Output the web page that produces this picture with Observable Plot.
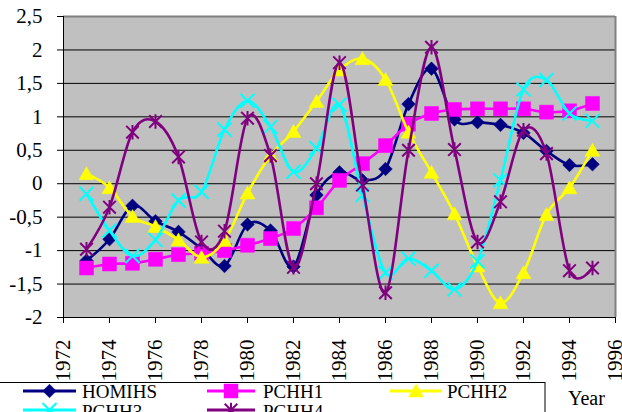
<!DOCTYPE html>
<html><head><meta charset="utf-8">
<script src="https://cdn.jsdelivr.net/npm/d3@7"></script>
<script src="https://cdn.jsdelivr.net/npm/@observablehq/plot@0.6"></script>
<style>
body{margin:0;background:#fff;font-family:"Liberation Serif",serif;}
#chart{width:622px;}
#legend{display:block;}
</style></head><body><div id="chart"></div>
<script>
const years = [1973,1974,1975,1976,1977,1978,1979,1980,1981,1982,1983,1984,1985,1986,1987,1988,1989,1990,1991,1992,1993,1994,1995];
const xTicks = [1972,1974,1976,1978,1980,1982,1984,1986,1988,1990,1992,1994,1996];
const yTicks = [-2,-1.5,-1,-0.5,0,0.5,1,1.5,2,2.5];
const seriesNames = ["HOMIHS","PCHH1","PCHH2","PCHH3","PCHH4"];
const homihs = [-1.15,-0.83,-0.33,-0.56,-0.72,-0.97,-1.23,-0.61,-0.7,-1.24,-0.17,0.17,0.05,0.22,1.19,1.72,0.96,0.92,0.88,0.76,0.49,0.28,0.29];
const pchh1 = [-1.26,-1.2,-1.19,-1.13,-1.06,-1.04,-1.0,-0.92,-0.82,-0.67,-0.36,0.05,0.3,0.57,0.89,1.05,1.11,1.12,1.12,1.12,1.07,1.09,1.2];
const pchh2 = [0.15,-0.06,-0.49,-0.64,-0.84,-1.1,-0.85,-0.14,0.42,0.78,1.23,1.7,1.87,1.56,0.77,0.17,-0.45,-1.23,-1.78,-1.33,-0.46,-0.06,0.5];
const pchh3 = [-0.15,-0.7,-1.08,-0.84,-0.25,-0.12,0.81,1.24,0.85,0.18,0.53,1.18,-0.17,-1.33,-1.12,-1.3,-1.58,-1.16,0.05,1.41,1.55,1.05,0.94];
const pchh4 = [-0.98,-0.35,0.77,0.93,0.4,-0.87,-0.71,0.98,0.42,-1.25,0.0,1.81,-0.02,-1.63,0.5,2.04,0.51,-0.87,-0.27,0.8,0.45,-1.3,-1.26];
const seriesValues = [homihs, pchh1, pchh2, pchh3, pchh4];
const seriesColors = ["#000080","#ff00ff","#ffff00","#00ffff","#800080"];
const axisTitle = "Year";
const FONT = "Liberation Serif";

// Excel-like marker shapes (r = half width)
const hw = s => Math.sqrt(s / Math.PI);
const symDiamond = {draw(c, s){const h=hw(s); c.moveTo(0,-h); c.lineTo(h,0); c.lineTo(0,h); c.lineTo(-h,0); c.closePath();}};
const symSquare = {draw(c, s){const h=hw(s); c.moveTo(-h,-h); c.lineTo(h,-h); c.lineTo(h,h); c.lineTo(-h,h); c.closePath();}};
const symTriangle = {draw(c, s){const h=hw(s); c.moveTo(0,-0.93*h); c.lineTo(h,0.8*h); c.lineTo(-h,0.8*h); c.closePath();}};
const symX = {draw(c, s){const h=hw(s); c.moveTo(-h,-h); c.lineTo(h,h); c.moveTo(-h,h); c.lineTo(h,-h);}};
const symStar = {draw(c, s){const h=hw(s); c.moveTo(-h,-h); c.lineTo(h,h); c.moveTo(-h,h); c.lineTo(h,-h); c.moveTo(0,-h*1.15); c.lineTo(0,h*1.15);}};
const markerStyles = [
  {symbol: symDiamond, r: 6.8, filled: true},
  {symbol: symSquare, r: 7, filled: true},
  {symbol: symTriangle, r: 7.5, filled: true},
  {symbol: symX, r: 7, filled: false},
  {symbol: symStar, r: 6.3, filled: false}
];

const rows = [];
seriesValues.forEach((vals, i) => vals.forEach((v, j) => rows.push({series: seriesNames[i], year: years[j], value: v})));

const marks = [
  Plot.frame({fill: "#c0c0c0", stroke: "none"}),
  Plot.ruleY(yTicks, {stroke: "#000", strokeWidth: 1}),
  Plot.ruleY([2.5], {stroke: "#808080", strokeWidth: 2}),
  Plot.ruleX([1996], {stroke: "#808080", strokeWidth: 2}),
  Plot.ruleX([1972], {stroke: "#000", strokeWidth: 1}),
  Plot.ruleY([-2], {stroke: "#000", strokeWidth: 1})
];
seriesNames.forEach((name, i) => {
  const d = rows.filter(r => r.series === name);
  const m = markerStyles[i];
  marks.push(Plot.line(d, {x: "year", y: "value", stroke: seriesColors[i], strokeWidth: 2.6, curve: "cardinal", tension: 0}));
  marks.push(Plot.dot(d, {x: "year", y: "value", symbol: m.symbol, r: m.r,
    fill: m.filled ? seriesColors[i] : "none", stroke: seriesColors[i], strokeWidth: m.filled ? 0.5 : 2}));
});
marks.push(Plot.axisX({ticks: xTicks, tickFormat: d => String(d), tickRotate: -90, tickSize: 6, tickPadding: 16, label: null, fontSize: 21}));
marks.push(Plot.axisY({ticks: yTicks, tickFormat: d => String(d).replace(".", ","), tickSize: 6, tickPadding: 15, label: null, fontSize: 21}));

const chart = Plot.plot({
  width: 622, height: 382,
  marginLeft: 63, marginRight: 7, marginTop: 16, marginBottom: 65,
  x: {domain: [1972, 1996]},
  y: {domain: [-2, 2.5]},
  style: {fontFamily: FONT, fontSize: "21px", background: "transparent", overflow: "visible", color: "#000"},
  marks
});
d3.select(chart).selectAll("text").attr("font-family", FONT).attr("font-size", 21);
document.getElementById("chart").appendChild(chart);

// Legend below the chart
const lg = d3.create("svg").attr("id", "legend").attr("width", 622).attr("height", 30)
  .attr("font-family", FONT);
lg.append("rect").attr("x", -1).attr("y", 0.5).attr("width", 546).attr("height", 50)
  .attr("fill", "#fff").attr("stroke", "#000").attr("stroke-width", 1);
const legendPos = [
  {x1: 23, x2: 76, tx: 82, row: 0},
  {x1: 207, x2: 255, tx: 263, row: 0},
  {x1: 390, x2: 442, tx: 447, row: 0},
  {x1: 23, x2: 76, tx: 82, row: 1},
  {x1: 207, x2: 255, tx: 263, row: 1}
];
seriesNames.forEach((name, i) => {
  const p = legendPos[i], m = markerStyles[i];
  const ly = 9 + p.row * 19;
  lg.append("line").attr("x1", p.x1).attr("x2", p.x2).attr("y1", ly).attr("y2", ly)
    .attr("stroke", seriesColors[i]).attr("stroke-width", 3);
  const path = d3.path();
  m.symbol.draw(path, Math.PI * m.r * m.r);
  lg.append("path").attr("d", path.toString()).attr("transform", `translate(${(p.x1 + p.x2) / 2},${ly})`)
    .attr("fill", m.filled ? seriesColors[i] : "none").attr("stroke", seriesColors[i]).attr("stroke-width", m.filled ? 0.5 : 2);
  lg.append("text").attr("x", p.tx).attr("y", 15.7 + p.row * 20).attr("font-family", FONT).attr("font-size", 19).text(name);
});
lg.append("text").attr("x", 568).attr("y", 23).attr("font-family", FONT).attr("font-size", 20).text(axisTitle);
document.getElementById("chart").appendChild(lg.node());
</script>
</body></html>
